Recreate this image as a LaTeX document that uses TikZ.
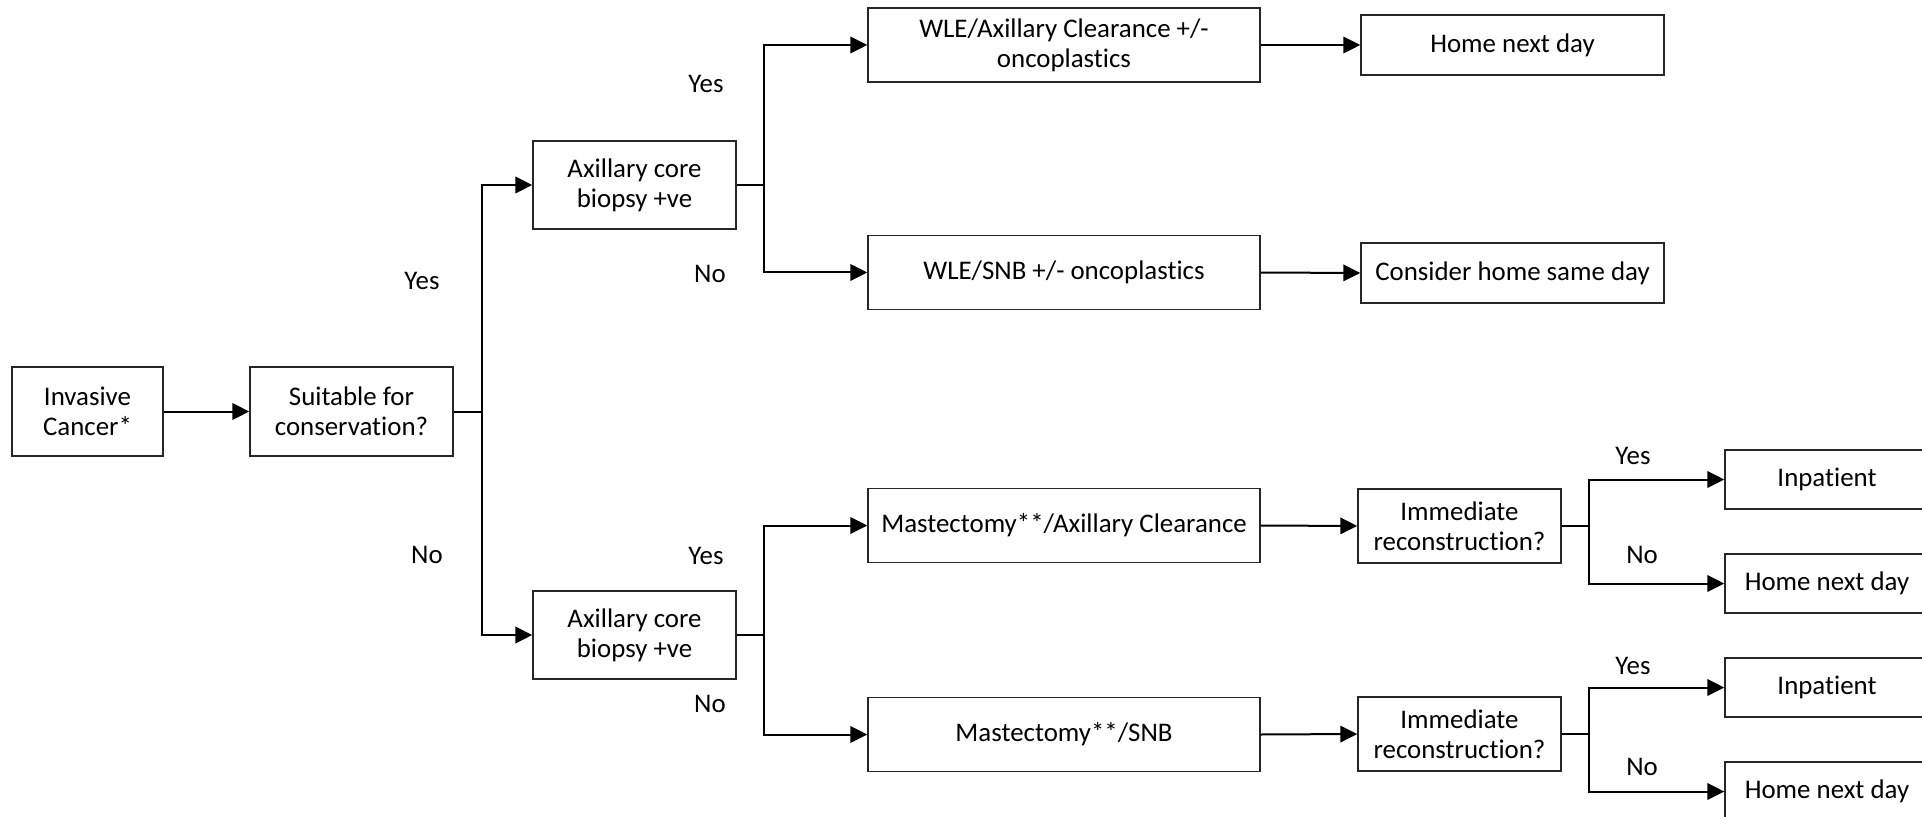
\documentclass[tikz,border=0pt]{standalone}
\usepackage{fontspec}
\setmainfont{Carlito}[Ligatures=NoCommon]
\usepackage{tikz}
\usetikzlibrary{arrows.meta}
\usetikzlibrary{positioning}
\usetikzlibrary{calc}

\begin{document}
\begin{tikzpicture}[
  x=0.02cm, y=-0.02cm,
  font=\fontsize{15.3}{17.1}\selectfont,
  dep/.style ={
    -{Triangle[length=3.4mm,width=3.3mm]},line width=0.4mm
  },
  link/.style ={
    line width=0.4mm
  },
  box/.style 2 args={
    rectangle,
    draw=black!85,
    line width=0.3mm,
    minimum width=#1,
    minimum height=#2,
    align=center,
    inner sep=0pt},
  lbl/.style={
    inner sep=0pt},
]

  \clip (0,0) rectangle (1922,817);

  \def\colax{634.5}%
  \def\colop{1064}%
  \def\colend{1512.5}%
  \def\colimm{1459.5}%
  \def\colout{1827}%

  % Start
  \node[box={3.02cm}{1.78cm}] (inv) at (87.5, 411.5) {Invasive\\Cancer*};
  \node[box={4.06cm}{1.78cm}] (suit) at (351.5, 411.5) {Suitable for\\conservation?};
  \draw[dep] (inv.east) to (suit.west);

  % Axillary core biopsy
  \node[box={4.06cm}{1.76cm}] (axA) at (\colax, 185) {Axillary core\\biopsy +ve};
  \node[box={4.06cm}{1.76cm}] (axB) at (\colax, 635) {Axillary core\\biopsy +ve};

  \coordinate (br_suit) at (482, 411.5);
  \draw[link] (suit.east) -- (br_suit);
  \draw[dep] (br_suit) |- (axA.west);
  \draw[dep] (br_suit) |- (axB.west);
  \node[lbl] (yes_suit) at (422, 281) {Yes};
  \node[lbl] (no_suit) at (427, 555) {No};

  % Operations
  \node[box={7.84cm}{1.48cm}] (wleA) at (\colop, 45) {WLE/Axillary Clearance +/-\\oncoplastics};
  \node[box={7.84cm}{1.48cm}] (wleB) at (\colop, 272.5) {WLE/SNB +/- oncoplastics};
  \node[box={7.84cm}{1.48cm}] (mastA) at (\colop, 525.5) {Mastectomy**/Axillary Clearance};
  \node[box={7.84cm}{1.48cm}] (mastB) at (\colop, 734.5) {Mastectomy**/SNB};

  \foreach \ax/\top/\bot/\yy/\yn in {axA/wleA/wleB/84/274,axB/mastA/mastB/556/704} {
    \coordinate (br_\ax) at (764, 0 |- \ax.east);
    \draw[link] (\ax.east) -- (br_\ax);
    \draw[dep] (br_\ax) |- (\top.west);
    \draw[dep] (br_\ax) |- (\bot.west);
    \node[lbl] (yes_\ax) at (706, \yy) {Yes};
    \node[lbl] (no_\ax) at (710, \yn) {No};
  }

  % Conservation outcomes
  \node[box={6.06cm}{1.2cm}] (homeA) at (\colend, 45) {Home next day};
  \node[box={6.06cm}{1.2cm}] (homeB) at (\colend, 273) {Consider home same day};
  \draw[dep] (wleA.east) to (homeA.west);
  \draw[dep] (wleB.east) to (homeB.west);

  % Reconstruction
  \node[box={4.06cm}{1.48cm}] (immA) at (\colimm, 526) {Immediate\\reconstruction?};
  \node[box={4.06cm}{1.48cm}] (immB) at (\colimm, 734) {Immediate\\reconstruction?};
  \draw[dep] (mastA.east) to (immA.west);
  \draw[dep] (mastB.east) to (immB.west);

  \node[box={4.08cm}{1.18cm}] (inpA) at (\colout, 479.5) {Inpatient};
  \node[box={4.08cm}{1.18cm}] (hndA) at (\colout, 583.5) {Home next day};
  \node[box={4.08cm}{1.18cm}] (inpB) at (\colout, 687.5) {Inpatient};
  \node[box={4.08cm}{1.18cm}] (hndB) at (\colout, 791.5) {Home next day};

  \foreach \imm/\inp/\hnd/\yy/\yn in {immA/inpA/hndA/456/555,immB/inpB/hndB/666/767} {
    \coordinate (br_\imm) at (1589, 0 |- \imm.east);
    \draw[link] (\imm.east) -- (br_\imm);
    \draw[dep] (br_\imm) |- (\inp.west);
    \draw[dep] (br_\imm) |- (\hnd.west);
    \node[lbl] (yes_\imm) at (1633, \yy) {Yes};
    \node[lbl] (no_\imm) at (1642, \yn) {No};
  }

\end{tikzpicture}
\end{document}
